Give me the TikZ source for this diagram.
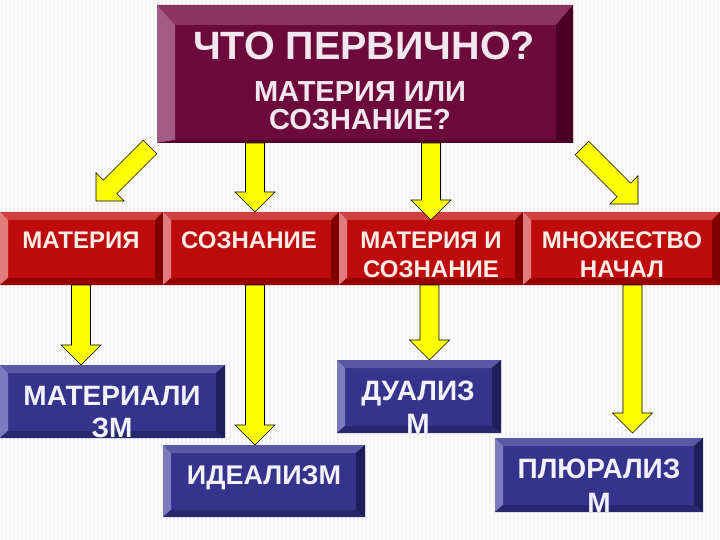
\documentclass[tikz,border=0pt]{standalone}
\usepackage{fontspec}
\setmainfont{Liberation Sans}
\usetikzlibrary{calc}
\definecolor{stripe}{RGB}{242,242,242}
\definecolor{mface}{RGB}{108,10,60}
\definecolor{mtop}{RGB}{140,52,96}
\definecolor{mleft}{RGB}{162,92,132}
\definecolor{mright}{RGB}{74,0,36}
\definecolor{mbot}{RGB}{84,4,44}
\definecolor{rface}{RGB}{190,12,12}
\definecolor{rtop}{RGB}{208,64,64}
\definecolor{rleft}{RGB}{226,124,124}
\definecolor{rright}{RGB}{128,0,0}
\definecolor{rbot}{RGB}{150,0,0}
\definecolor{bface}{RGB}{52,52,140}
\definecolor{btop}{RGB}{88,88,164}
\definecolor{bleft}{RGB}{122,122,188}
\definecolor{bright}{RGB}{30,30,90}
\definecolor{bbot}{RGB}{40,40,112}
\definecolor{mtext}{RGB}{242,230,240}
\definecolor{rtext}{RGB}{250,236,230}
\definecolor{btext}{RGB}{242,242,250}
\definecolor{yfill}{RGB}{255,255,0}
\newcommand\bevels[8]{%
  \path (path picture bounding box.north west) coordinate (bNW)
        (path picture bounding box.north east) coordinate (bNE)
        (path picture bounding box.south west) coordinate (bSW)
        (path picture bounding box.south east) coordinate (bSE);
  \fill[#5] (bNW) -- (bNE) -- ([shift={(-#3pt,-#1pt)}]bNE) -- ([shift={(#2pt,-#1pt)}]bNW) -- cycle;
  \fill[#6] (bNW) -- ([shift={(#2pt,-#1pt)}]bNW) -- ([shift={(#2pt,#4pt)}]bSW) -- (bSW) -- cycle;
  \fill[#7] (bNE) -- ([shift={(-#3pt,-#1pt)}]bNE) -- ([shift={(-#3pt,#4pt)}]bSE) -- (bSE) -- cycle;
  \fill[#8] (bSW) -- ([shift={(#2pt,#4pt)}]bSW) -- ([shift={(-#3pt,#4pt)}]bSE) -- (bSE) -- cycle;
}
\newcommand\yarr[2]{%
  \path (#1) coordinate (yA) (#2) coordinate (yT);
  \path ($(yT)!20pt!(yA)$) coordinate (yB);
  \filldraw[yarrow] ($(yA)!9.5pt!-90:(yT)$) -- ($(yB)!9.5pt!-90:(yT)$) -- ($(yB)!20pt!-90:(yT)$)
    -- (yT) -- ($(yB)!20pt!90:(yT)$) -- ($(yB)!9.5pt!90:(yT)$) -- ($(yA)!9.5pt!90:(yT)$) -- cycle;
}
\tikzset{
  yarrow/.style={fill=yfill, draw=black, line width=0.6pt, line join=miter},
  boxbase/.style={rectangle, inner sep=0pt, outer sep=0pt, draw=none},
  topbox/.style={boxbase, fill=mface, path picture={\bevels{20}{18}{17}{3}{mtop}{mleft}{mright}{mbot}}},
  redbox/.style={boxbase, fill=rface, path picture={\bevels{8}{8}{8}{7}{rtop}{rleft}{rright}{rbot}}},
  bluebox/.style={boxbase, fill=bface, path picture={\bevels{8}{8}{9}{7}{btop}{bleft}{bright}{bbot}}},
  ttl/.style={anchor=base, inner sep=0pt, text=mtext, font=\bfseries\fontsize{39.5}{39.5}\selectfont},
  sub/.style={anchor=base, inner sep=0pt, text=mtext, font=\bfseries\fontsize{29}{29}\selectfont},
  rtxt/.style={anchor=base, inner sep=0pt, text=rtext, font=\bfseries\fontsize{24}{24}\selectfont},
  btxt/.style={anchor=base, inner sep=0pt, text=btext, font=\bfseries\fontsize{28}{28}\selectfont},
}
\begin{document}
\begin{tikzpicture}[x=1pt,y=-1pt]
\useasboundingbox (0,0) rectangle (720,540);
\fill[white] (0,0) rectangle (720,540);
\foreach \i in {1,5,...,717} \fill[stripe] (\i,0) rectangle (\i+2,540);
% diagonal arrows (behind the top box)
\coordinate (t1) at (150,147);
\coordinate (h1) at (96,201);
\coordinate (t4) at (582,148);
\coordinate (h4) at (638,204);
\coordinate (h3) at (431,220);
\coordinate (h8) at (632.5,433);
\yarr{t1}{h1}
\yarr{t4}{h4}
% top box
\node[topbox, minimum width=416pt, minimum height=138pt] (top) at (365,74) {};
% red row
\node[redbox, minimum width=163pt, minimum height=73pt] (mat) at (81.5,248.5) {};
\node[redbox, minimum width=176pt, minimum height=73pt] (soz) at (251,248.5) {};
\node[redbox, minimum width=184pt, minimum height=73pt] (mis) at (431,248.5) {};
\node[redbox, minimum width=197pt, minimum height=73pt] (mn) at (621.5,248.5) {};
% blue boxes
\node[bluebox, minimum width=225pt, minimum height=73pt] (mtz) at (112.5,401.5) {};
\node[bluebox, minimum width=164pt, minimum height=73pt] (dua) at (419,396.5) {};
\node[bluebox, minimum width=208pt, minimum height=74pt] (plu) at (599,475) {};
\node[bluebox, minimum width=202pt, minimum height=72pt] (ide) at (264,481) {};
% vertical arrows
\yarr{top.south -| 255,0}{soz.north -| 255,0}
\yarr{top.south -| 431,0}{h3}
\yarr{mat.south -| 81,0}{mtz.north -| 81,0}
\yarr{soz.south -| 255,0}{ide.north -| 255,0}
\yarr{mis.south -| 429.5,0}{dua.north -| 429.5,0}
\yarr{mn.south -| 632.5,0}{h8}
% texts
\node[ttl] (t0) at (364,60) {ЧТО ПЕРВИЧНО?};
\node[sub] (t0a) at (360,102) {МАТЕРИЯ ИЛИ};
\node[sub] (t0b) at (360,130) {СОЗНАНИЕ?};
\node[rtxt] (tx1) at (81,248) {МАТЕРИЯ};
\node[rtxt] (tx2) at (249,248) {СОЗНАНИЕ};
\node[rtxt] (tx3a) at (431,248) {МАТЕРИЯ И};
\node[rtxt] (tx3b) at (431,277) {СОЗНАНИЕ};
\node[rtxt] (tx4a) at (622,248) {МНОЖЕСТВО};
\node[rtxt] (tx4b) at (622,277) {НАЧАЛ};
\node[btxt] (tb1a) at (112,405) {МАТЕРИАЛИ};
\node[btxt] (tb1b) at (112,437) {ЗМ};
\node[btxt, font=\bfseries\fontsize{27}{27}\selectfont] (tb2) at (264,484) {ИДЕАЛИЗМ};
\node[btxt] (tb3a) at (418,400) {ДУАЛИЗ};
\node[btxt] (tb3b) at (418,433) {М};
\node[btxt] (tb4a) at (599,478) {ПЛЮРАЛИЗ};
\node[btxt] (tb4b) at (599,512) {М};
\end{tikzpicture}
\end{document}
